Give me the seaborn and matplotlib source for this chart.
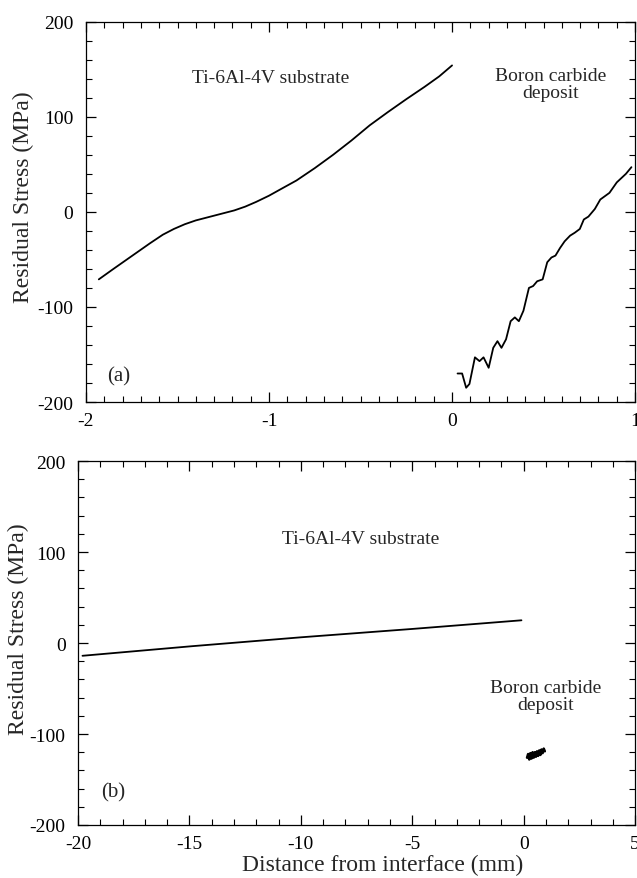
import numpy as np
import pandas as pd
import matplotlib
matplotlib.use("Agg")
import matplotlib.pyplot as plt
from matplotlib.ticker import MultipleLocator
import seaborn as sns

# ---- data ----
sub_a_x = [-1.93, -1.85, -1.75, -1.65, -1.58, -1.52, -1.46, -1.40, -1.33, -1.26,
           -1.19, -1.13, -1.07, -1.00, -0.93, -0.85, -0.75, -0.65, -0.55, -0.45,
           -0.35, -0.25, -0.15, -0.07, 0.0]
sub_a_y = [-71, -60, -46.5, -33, -24, -18, -13, -9, -5.5, -2,
           1.5, 5.5, 10.5, 17, 24.5, 33, 46, 60, 75, 91,
           105, 118.5, 131.5, 142.5, 154]

dep_a_x = [0.03, 0.055, 0.077, 0.095, 0.125, 0.15, 0.172, 0.2, 0.225, 0.248,
           0.27, 0.295, 0.32, 0.343, 0.365, 0.39, 0.42, 0.443, 0.465, 0.495,
           0.52, 0.543, 0.565, 0.59, 0.615, 0.645, 0.67, 0.698, 0.72, 0.745,
           0.78, 0.81, 0.86, 0.9, 0.95, 0.98]
dep_a_y = [-170, -170, -185, -181, -153, -157, -153, -164, -143, -136,
           -143, -134, -115, -111, -115, -104, -80, -78, -73, -71,
           -53, -48, -46, -38, -31, -25, -22, -18, -8, -5,
           3, 13, 20, 31, 40, 47]

sub_b_x = [-19.8, -14.9, -10.0, -5.0, -0.1]
sub_b_y = [-14, -3.5, 6.3, 15.5, 25]

dep_b_x = [0.15, 0.2, 0.25, 0.3, 0.35, 0.4, 0.45, 0.5, 0.55, 0.6,
           0.65, 0.7, 0.75, 0.8, 0.85, 0.9, 0.95]
dep_b_y = [-126, -122, -128, -121, -127, -120, -126, -120, -125, -119,
           -124, -118, -123, -117, -121, -116, -119]

ylabel = "Residual Stress (MPa)"
xlabel = "Distance from interface (mm)"

# ---- style ----
sns.set_style("ticks")
plt.rcParams['font.family'] = ['Liberation Serif', 'DejaVu Serif']
plt.rcParams['axes.unicode_minus'] = False

fig = plt.figure(figsize=(6.37, 8.79), dpi=100)
ax1 = fig.add_axes([0.135, 0.5415, 0.862, 0.4327])
ax2 = fig.add_axes([0.1225, 0.0603, 0.8745, 0.414])

for x, y, ax, lw in [(sub_a_x, sub_a_y, ax1, 1.3), (dep_a_x, dep_a_y, ax1, 1.3),
                     (sub_b_x, sub_b_y, ax2, 1.3), (dep_b_x, dep_b_y, ax2, 1.8)]:
    df = pd.DataFrame({"x": x, "y": y})
    sns.lineplot(data=df, x="x", y="y", ax=ax, color="black", lw=lw,
                 sort=False, estimator=None)

ax1.set_xlim(-2, 1)
ax2.set_xlim(-20, 5)
for ax in (ax1, ax2):
    ax.set_ylim(-200, 200)
    ax.yaxis.set_major_locator(MultipleLocator(100))
    ax.yaxis.set_minor_locator(MultipleLocator(20))
    ax.tick_params(which='both', direction='in', top=True, right=True,
                   color='black', labelsize=14, labelcolor='black')
    ax.tick_params(which='major', length=7, width=0.9)
    ax.tick_params(which='minor', length=4, width=0.8)
    ax.tick_params(axis='y', pad=9)
    ax.tick_params(axis='x', pad=7)
    for s in ax.spines.values():
        s.set_color('black')
        s.set_linewidth(0.9)
    ax.set_ylabel(ylabel, fontsize=17)
    ax.set_xlabel("")

ax1.yaxis.set_label_coords(-0.095, 0.54)
ax2.yaxis.set_label_coords(-0.0886, 0.54)

ax1.xaxis.set_major_locator(MultipleLocator(1))
ax1.xaxis.set_minor_locator(MultipleLocator(0.1))
ax2.xaxis.set_major_locator(MultipleLocator(5))
ax2.xaxis.set_minor_locator(MultipleLocator(1))
ax2.set_xlabel(xlabel, fontsize=17)
ax2.xaxis.set_label_coords(0.547, -0.08)

ax1.text(-0.99, 141, "Ti-6Al-4V substrate", ha='center', va='center', fontsize=14)
ax1.text(0.54, 134, "Boron carbide\ndeposit", ha='center', va='center',
         fontsize=14, linespacing=1.0)
ax1.text(-1.82, -173, "(a)", ha='center', va='center', fontsize=15)

ax2.text(-7.3, 115, "Ti-6Al-4V substrate", ha='center', va='center', fontsize=14)
ax2.text(1.0, -58, "Boron carbide\ndeposit", ha='center', va='center',
         fontsize=14, linespacing=1.0)
ax2.text(-18.4, -164, "(b)", ha='center', va='center', fontsize=15)

fig.savefig("out.png", dpi=100)
